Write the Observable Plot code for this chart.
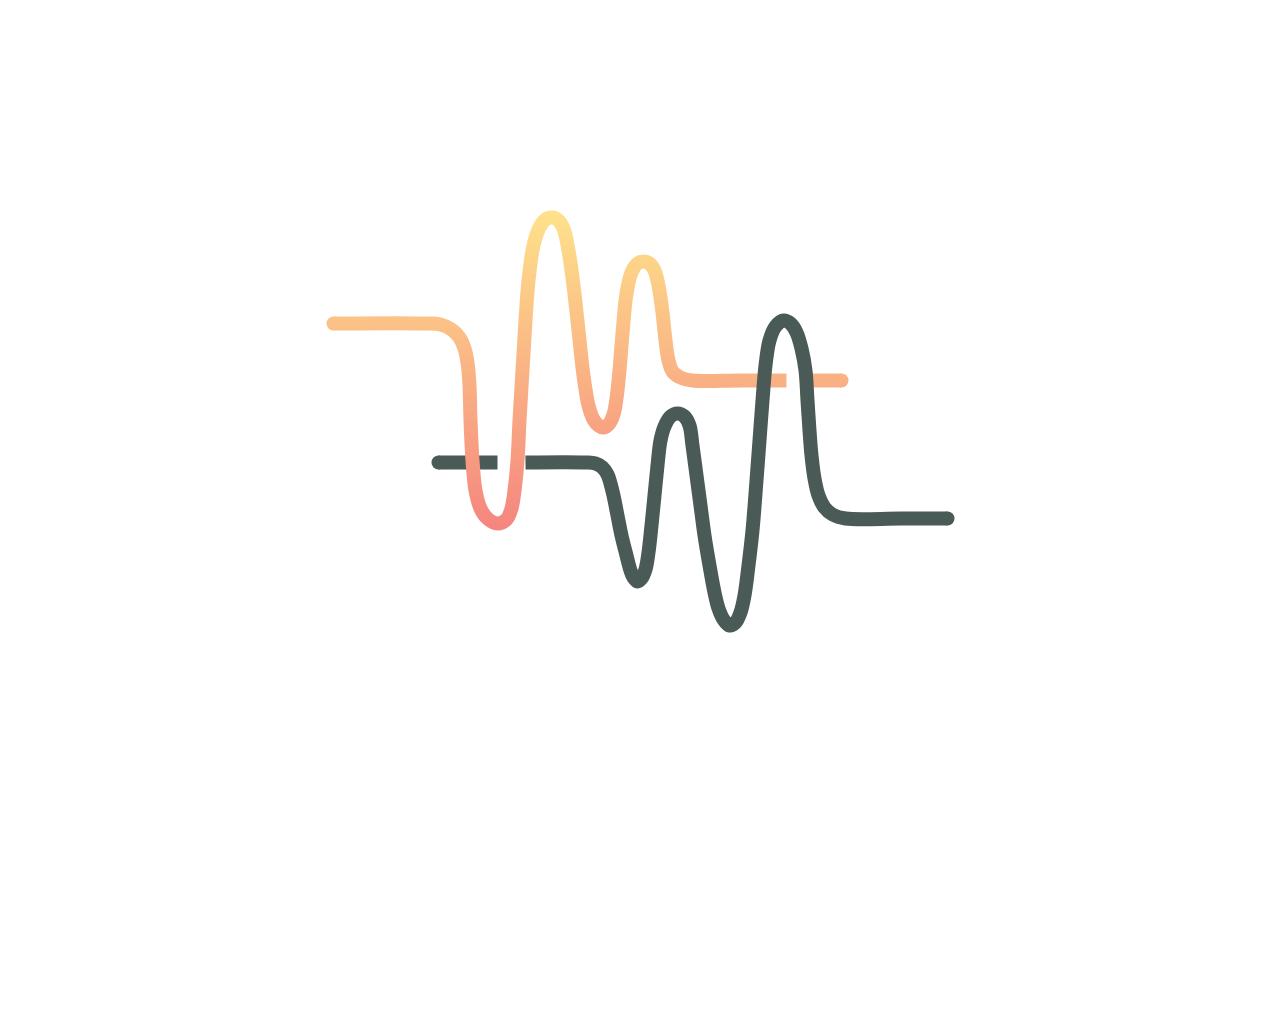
<!DOCTYPE html>
<html>
<head>
<meta charset="utf-8">
<script src="https://cdn.jsdelivr.net/npm/d3@7"></script>
<script src="https://cdn.jsdelivr.net/npm/@observablehq/plot@0.6"></script>
<style>
  html, body { margin: 0; padding: 0; background: #ffffff; }
  #chart svg { display: block; }
</style>
</head>
<body>
<div id="chart"></div>
<script>
// Warm (gradient) wave: main run and short tail after the gap. [t, amplitude]
const warmMain = [
  [-30.7, 9.9], [-21.5, 9.9], [-20.0, 9.8], [-18.9, 9.3], [-18.1, 8.5], [-17.6, 7.4],
  [-17.3, 6.0], [-17.1, 3.7], [-17.0, 0.2], [-16.8, -3.8], [-16.5, -6.8], [-16.0, -8.6],
  [-15.3, -9.6], [-14.3, -10.1], [-13.4, -9.7], [-12.9, -8.6], [-12.6, -6.8], [-12.3, -3.8],
  [-12.1, 0.2], [-11.8, 5.2], [-11.5, 10.2], [-11.2, 14.2], [-10.7, 17.7], [-10.1, 19.5],
  [-9.5, 20.3], [-8.9, 20.5], [-8.3, 20.3], [-7.7, 19.4], [-7.2, 17.2], [-6.7, 13.7],
  [-6.2, 9.2], [-5.7, 4.7], [-5.2, 1.7], [-4.7, 0.3], [-4.2, -0.3], [-3.7, -0.5],
  [-3.2, -0.2], [-2.7, 0.8], [-2.4, 2.4], [-2.1, 5.2], [-1.8, 8.9], [-1.4, 12.9],
  [-0.9, 15.0], [-0.3, 15.9], [0.3, 16.1], [0.9, 15.9], [1.4, 15.2], [1.8, 13.7],
  [2.2, 11.0], [2.5, 8.2], [2.8, 6.2], [3.2, 5.1], [4.0, 4.5], [5.2, 4.2],
  [10.0, 4.2], [14.6, 4.2]
];
const warmTail = [[17.1, 4.2], [20.1, 4.2]];

// Cool (dark) wave: short head before the gap and main run.
const coolHead = [[-20.2, -4.0], [-14.3, -4.0]];
const coolMain = [
  [-11.5, -4.0], [-5.5, -4.0], [-4.5, -4.1], [-3.8, -4.5], [-3.3, -5.2], [-3.0, -6.1],
  [-2.7, -7.3], [-2.3, -9.3], [-1.9, -11.3], [-1.4, -13.3], [-1.0, -14.8], [-0.7, -15.5],
  [-0.3, -15.9], [0.1, -15.6], [0.5, -14.7], [0.8, -13.0], [1.1, -10.3], [1.4, -7.3],
  [1.7, -4.3], [2.0, -1.8], [2.4, -0.4], [3.0, 0.6], [3.7, 0.9], [4.4, 0.6],
  [4.9, -0.3], [5.2, -2.3], [5.6, -5.3], [6.0, -8.3], [6.4, -11.3], [6.9, -14.3],
  [7.4, -17.0], [7.8, -18.6], [8.3, -19.7], [8.9, -20.3], [9.5, -20.0], [10.0, -19.0],
  [10.4, -17.3], [10.8, -14.3], [11.2, -10.8], [11.6, -5.8], [11.9, -1.8], [12.2, 2.2],
  [12.5, 5.7], [12.9, 8.2], [13.5, 9.6], [14.3, 10.2], [15.0, 9.9], [15.6, 9.0],
  [16.1, 7.4], [16.5, 5.2], [16.7, 2.2], [16.9, -0.8], [17.1, -3.3], [17.4, -5.6],
  [17.8, -7.3], [18.4, -8.5], [19.2, -9.2], [20.5, -9.6], [26.0, -9.6], [30.7, -9.6]
];

// Rounded outer ends
const warmEnds = [warmMain[0], warmTail[warmTail.length - 1]];
const coolEnds = [coolHead[0], coolMain[coolMain.length - 1]];

const gradientStops = [
  {offset: 0, color: "#fee28a"},
  {offset: 1, color: "#f5857f"}
];
const gradientRange = [21.1, -10.8];

const darkColor = "#4a5a57";
const lineWidth = 14;

const defsMark = (index, scales) => {
  const defs = d3.create("svg:defs");
  const lg = defs.append("linearGradient")
    .attr("id", "warmGradient")
    .attr("gradientUnits", "userSpaceOnUse")
    .attr("x1", 0).attr("x2", 0)
    .attr("y1", scales.y(gradientRange[0]))
    .attr("y2", scales.y(gradientRange[1]));
  for (const s of gradientStops) {
    lg.append("stop").attr("offset", s.offset).attr("stop-color", s.color);
  }
  return defs.node();
};

const lineOpts = (stroke) => ({
  x: d => d[0], y: d => d[1],
  curve: "catmull-rom",
  stroke,
  strokeWidth: lineWidth,
  strokeLinecap: "butt",
  strokeLinejoin: "round"
});
const capOpts = (fill) => ({x: d => d[0], y: d => d[1], r: lineWidth / 2, fill});

const chart = Plot.plot({
  width: 1280,
  height: 1024,
  margin: 0,
  x: {domain: [-64, 64], axis: null},
  y: {domain: [-60.2, 42.2], axis: null},
  marks: [
    defsMark,
    Plot.line(coolHead, lineOpts(darkColor)),
    Plot.dot([coolEnds[0]], capOpts(darkColor)),
    Plot.line(warmMain, lineOpts("url(#warmGradient)")),
    Plot.dot([warmEnds[0]], capOpts("url(#warmGradient)")),
    Plot.line(warmTail, lineOpts("url(#warmGradient)")),
    Plot.dot([warmEnds[1]], capOpts("url(#warmGradient)")),
    Plot.line(coolMain, lineOpts(darkColor)),
    Plot.dot([coolEnds[1]], capOpts(darkColor))
  ]
});
document.getElementById("chart").appendChild(chart);
</script>
</body>
</html>
